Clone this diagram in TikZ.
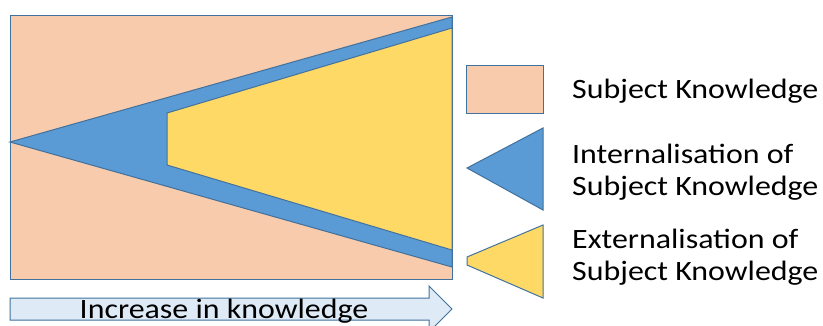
\documentclass[tikz,border=0pt]{standalone}
\usepackage{fontspec}
\setmainfont{Carlito}[FakeStretch=1.14]
\usetikzlibrary{positioning}
\definecolor{subjfill}{HTML}{F8CBAD}
\definecolor{internfill}{HTML}{5B9BD5}
\definecolor{externfill}{HTML}{FFD966}
\definecolor{shapeline}{HTML}{41719C}
\definecolor{arrowfill}{HTML}{DEEBF7}

\begin{document}
\begin{tikzpicture}[x=1pt, y=-1pt,
        area/.style={draw=shapeline, line width=1pt, line join=miter},
        legtext/.style={anchor=west, align=left, inner sep=0pt, font=\fontsize{28}{32}\selectfont}
    ]
        \useasboundingbox (0,0) rectangle (823,325);
        \clip (0,0) rectangle (823,325);

        % knowledge block with the two growing wedges
        \filldraw [area, fill=subjfill] (10,15) rectangle (452,279);
        \filldraw [area, fill=internfill] (10,142) -- (452,17) -- (452,267) -- cycle;
        \filldraw [area, fill=externfill] (167,113) -- (452,28) -- (452,250) -- (167,165) -- cycle;

        % arrow under the block
        \filldraw [area, fill=arrowfill] (10,298) -- (429,298) -- (429,286) -- (452,309) -- (429,332) -- (429,320) -- (10,320) -- cycle;
        \node [anchor=base, inner sep=0pt, font=\fontsize{28}{32}\selectfont] (increase) at (224,318) {Increase in knowledge};

        % legend swatches
        \filldraw [area, fill=subjfill] (466,65) rectangle (543,113);
        \filldraw [area, fill=internfill] (467,168) -- (543,128) -- (543,210) -- cycle;
        \filldraw [area, fill=externfill] (467,257) -- (543,225) -- (543,298) -- (467,265) -- cycle;

        % legend labels
        \node [legtext] (subj) at (572,91) {Subject Knowledge};
        \node [legtext] (intern) at (572,172) {Internalisation of\\Subject Knowledge};
        \node [legtext] (extern) at (572,257) {Externalisation of\\Subject Knowledge};
    \end{tikzpicture}
\end{document}
